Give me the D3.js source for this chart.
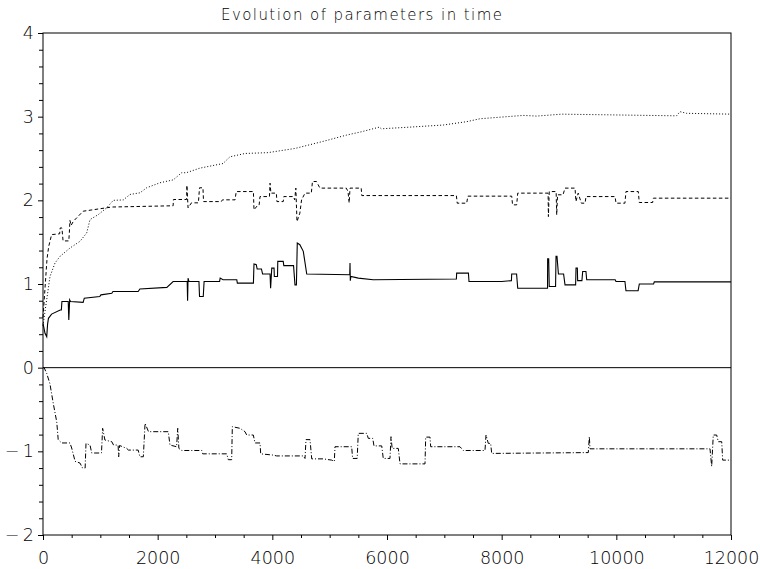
<!DOCTYPE html>
<html>
<head>
<meta charset="utf-8">
<title>Evolution of parameters in time</title>
<style>
    body { margin: 0; padding: 0; background: #fff; }
    svg { display: block; }
    text { font-family: "DejaVu Sans", sans-serif; font-weight: 200; fill: #000; }
    .tick text { font-size: 17.5px; }
    .domain { display: none; }
    .tick line { stroke: #000; stroke-width: 1; }
</style>
</head>
<body>
<svg width="760" height="569"></svg>
<script src="https://d3js.org/d3.v7.min.js"></script>
<script>
// series: [time, value]
var solidSeries = [
    [0, 0.53], [35, 0.41], [65, 0.37], [80, 0.52], [95, 0.59], [150, 0.64], [300, 0.69], [320, 0.69],
    [330, 0.79], [440, 0.79], [450, 0.57], [465, 0.81], [480, 0.79], [700, 0.78], [720, 0.83], [990, 0.85],
    [1010, 0.87], [1200, 0.89], [1220, 0.91], [1660, 0.91], [1690, 0.94], [2160, 0.96], [2270, 1.03],
    [2515, 1.03], [2522, 0.80], [2530, 1.07], [2545, 1.03], [2720, 1.03], [2730, 0.85], [2795, 0.85],
    [2810, 1.03], [3080, 1.03], [3090, 1.07], [3140, 1.05], [3380, 1.05], [3390, 1.01], [3670, 1.01],
    [3680, 1.24], [3720, 1.23], [3735, 1.18], [3810, 1.18], [3830, 1.12], [3960, 1.12], [3970, 0.95],
    [3990, 1.19], [4030, 1.19], [4035, 1.09], [4090, 1.09], [4095, 1.27], [4190, 1.27], [4200, 1.22],
    [4370, 1.22], [4395, 0.99], [4420, 0.99], [4435, 1.49], [4480, 1.47], [4540, 1.39], [4560, 1.30],
    [4600, 1.12], [5350, 1.11], [5355, 1.25], [5360, 1.04], [5370, 1.09], [5500, 1.07], [5760, 1.05],
    [7210, 1.06], [7215, 1.13], [7420, 1.13], [7430, 1.03], [8000, 1.03], [8170, 1.04], [8175, 1.12],
    [8260, 1.12], [8280, 0.95], [8800, 0.95], [8802, 1.30], [8820, 1.30], [8830, 0.97], [8940, 0.97],
    [8948, 1.33], [8965, 1.33], [8990, 1.12], [9080, 1.12], [9105, 0.99], [9290, 0.99], [9297, 1.19],
    [9320, 1.19], [9325, 1.04], [9400, 1.04], [9413, 1.15], [9470, 1.15], [9483, 1.05], [9980, 1.05],
    [9994, 1.03], [10150, 1.03], [10168, 0.92], [10380, 0.92], [10401, 1.00], [10650, 1.00],
    [10662, 1.025], [12000, 1.025]
];

var dashedSeries = [
    [0, 0.60], [40, 1.00], [70, 1.30], [100, 1.45], [150, 1.59], [290, 1.60], [300, 1.67], [330, 1.67],
    [350, 1.515], [450, 1.515], [460, 1.62], [470, 1.76], [490, 1.70], [530, 1.75], [700, 1.87],
    [1100, 1.91], [1200, 1.92], [2270, 1.935], [2275, 2.01], [2505, 2.01], [2510, 2.18], [2530, 1.91],
    [2590, 1.97], [2710, 1.97], [2730, 2.15], [2790, 2.15], [2800, 1.985], [3110, 1.985], [3130, 2.006],
    [3350, 2.006], [3370, 2.105], [3670, 2.105], [3680, 1.886], [3750, 1.946], [3770, 1.946],
    [3785, 2.045], [3950, 2.045], [3960, 2.205], [3975, 2.086], [4070, 2.086], [4080, 1.985],
    [4190, 1.985], [4200, 2.045], [4365, 2.045], [4390, 2.006], [4410, 2.146], [4430, 1.746],
    [4480, 1.847], [4510, 2.006], [4570, 2.086], [4680, 2.086], [4700, 2.225], [4770, 2.225],
    [4830, 2.146], [5290, 2.146], [5320, 2.105], [5340, 1.97], [5355, 2.146], [5550, 2.146],
    [5560, 2.057], [7210, 2.057], [7225, 1.966], [7390, 1.966], [7410, 2.05], [8175, 2.05],
    [8190, 1.946], [8262, 1.946], [8280, 2.086], [8810, 2.086], [8815, 1.806], [8830, 2.105],
    [8950, 2.105], [8960, 1.827], [8975, 2.066], [9070, 2.066], [9105, 2.146], [9280, 2.146],
    [9295, 1.986], [9335, 2.086], [9390, 1.966], [9455, 1.966], [9471, 2.045], [9977, 2.045],
    [9995, 1.966], [10150, 1.966], [10168, 2.105], [10383, 2.105], [10400, 1.974], [10633, 1.974],
    [10645, 2.026], [12000, 2.026]
];

var dottedSeries = [
    [0, 0.50], [30, 0.65], [64, 0.81], [122, 1.09], [209, 1.25], [296, 1.33], [471, 1.43], [645, 1.51],
    [762, 1.61], [820, 1.77], [965, 1.83], [1110, 1.91], [1227, 2.00], [1401, 2.005], [1517, 2.07],
    [1692, 2.09], [1808, 2.15], [2040, 2.21], [2273, 2.245], [2418, 2.33], [2500, 2.33], [2738, 2.385],
    [3140, 2.44], [3260, 2.52], [3523, 2.56], [3924, 2.57], [4395, 2.62], [4860, 2.70], [5296, 2.78],
    [5558, 2.82], [5866, 2.875], [5900, 2.855], [6400, 2.875], [6981, 2.90], [7389, 2.94],
    [7621, 2.975], [8377, 3.015], [8610, 3.007], [9046, 3.03], [11051, 3.01], [11109, 3.06],
    [11226, 3.04], [12000, 3.03]
];

var dashDotSeries = [
    [0, 0], [20, 0], [65, -0.07], [120, -0.19], [180, -0.43], [240, -0.65], [265, -0.86], [325, -0.90],
    [470, -0.90], [500, -0.96], [560, -1.12], [645, -1.14], [690, -1.20], [735, -1.20], [750, -0.905],
    [820, -0.925], [850, -1.02], [1020, -1.02], [1040, -0.725], [1080, -0.865], [1200, -0.885],
    [1230, -0.925], [1310, -0.925], [1320, -1.065], [1335, -0.93], [1460, -0.965], [1490, -0.985],
    [1660, -0.985], [1690, -1.065], [1750, -1.065], [1780, -0.665], [1840, -0.765], [2185, -0.765],
    [2215, -0.925], [2330, -0.945], [2350, -0.725], [2370, -0.965], [2420, -0.99], [2770, -0.99],
    [2786, -1.03], [3204, -1.03], [3232, -1.10], [3291, -1.10], [3302, -0.705], [3436, -0.725],
    [3523, -0.765], [3553, -0.805], [3668, -0.805], [3698, -0.90], [3785, -0.90], [3797, -1.03],
    [4017, -1.045], [4076, -1.055], [4540, -1.055], [4570, -1.085], [4587, -0.86], [4657, -0.86],
    [4687, -1.09], [4889, -1.09], [5035, -1.105], [5081, -1.12], [5093, -0.945], [5384, -0.945],
    [5400, -1.085], [5480, -1.085], [5499, -0.785], [5646, -0.785], [5674, -0.845], [5751, -0.845],
    [5773, -0.935], [5908, -0.935], [5935, -1.085], [6052, -1.085], [6070, -0.825], [6090, -0.965],
    [6197, -0.965], [6227, -1.15], [6663, -1.15], [6675, -0.83], [6750, -0.83], [6762, -0.945],
    [7273, -0.945], [7331, -0.99], [7709, -0.99], [7727, -0.805], [7767, -0.905], [7808, -0.905],
    [7826, -1.025], [9511, -1.015], [9529, -0.825], [9541, -0.97], [11634, -0.97], [11663, -1.18],
    [11691, -0.805], [11750, -0.805], [11778, -0.885], [11838, -0.885], [11855, -1.105], [12000, -1.105]
];

var xMajorTicks = [0, 2000, 4000, 6000, 8000, 10000, 12000];
var yMajorTicks = [-2, -1, 0, 1, 2, 3, 4];
var titleText = "Evolution of parameters in time";

var plot = { left: 43, right: 731, top: 33, bottom: 535 };

var svg = d3.select("svg");

var x = d3.scaleLinear().domain([0, 12000]).range([plot.left, plot.right]);
var y = d3.scaleLinear().domain([-2, 4]).range([plot.bottom, plot.top]);

// minor ticks: every 500 on x, every 0.2 on y
var xMinor = d3.range(0, 12001, 500).filter(function(d) { return d % 2000 != 0 });
var yMinor = d3.range(-2, 4.001, 0.2).filter(function(d) { return Math.abs(d - Math.round(d)) > 0.01 });

svg.append("g")
    .attr("transform", "translate(0," + plot.bottom + ")")
    .call(d3.axisBottom(x).tickValues(xMinor).tickSize(3).tickFormat(""));

svg.append("g")
    .attr("transform", "translate(0," + plot.bottom + ")")
    .call(d3.axisBottom(x).tickValues(xMajorTicks).tickSize(5).tickPadding(12).tickFormat(d3.format("d")));

svg.append("g")
    .attr("transform", "translate(" + plot.left + ",0)")
    .call(d3.axisLeft(y).tickValues(yMinor).tickSize(4).tickFormat(""));

svg.append("g")
    .attr("transform", "translate(" + plot.left + ",0)")
    .call(d3.axisLeft(y).tickValues(yMajorTicks).tickSize(5).tickPadding(4)
        .tickFormat(function(d) { return d < 0 ? "\u2212\u2009" + Math.abs(d) : d }));

// frame
svg.append("rect")
    .attr("x", plot.left).attr("y", plot.top)
    .attr("width", plot.right - plot.left).attr("height", plot.bottom - plot.top)
    .attr("fill", "none").attr("stroke", "#000").attr("stroke-width", 1);

// zero line
svg.append("line")
    .attr("x1", x(0)).attr("x2", x(12000))
    .attr("y1", y(0)).attr("y2", y(0))
    .attr("stroke", "#000").attr("stroke-width", 1);

var line = d3.line()
    .x(function(d) { return x(d[0]) })
    .y(function(d) { return y(d[1]) });

var series = [
    { data: solidSeries, dash: null, width: 1.1 },
    { data: dashedSeries, dash: "3.5,2.5", width: 1 },
    { data: dottedSeries, dash: "1,2", width: 1 },
    { data: dashDotSeries, dash: "5,2,1,2", width: 1 }
];

svg.selectAll(".serie")
    .data(series)
    .enter()
    .append("path")
    .attr("class", "serie")
    .attr("d", function(d) { return line(d.data) })
    .attr("fill", "none")
    .attr("stroke", "#000")
    .attr("stroke-width", function(d) { return d.width })
    .attr("stroke-dasharray", function(d) { return d.dash });

svg.append("text")
    .attr("x", 361.5)
    .attr("y", 20)
    .attr("text-anchor", "middle")
    .attr("font-size", 15)
    .attr("textLength", 281)
    .attr("lengthAdjust", "spacing")
    .text(titleText);
</script>
</body>
</html>
